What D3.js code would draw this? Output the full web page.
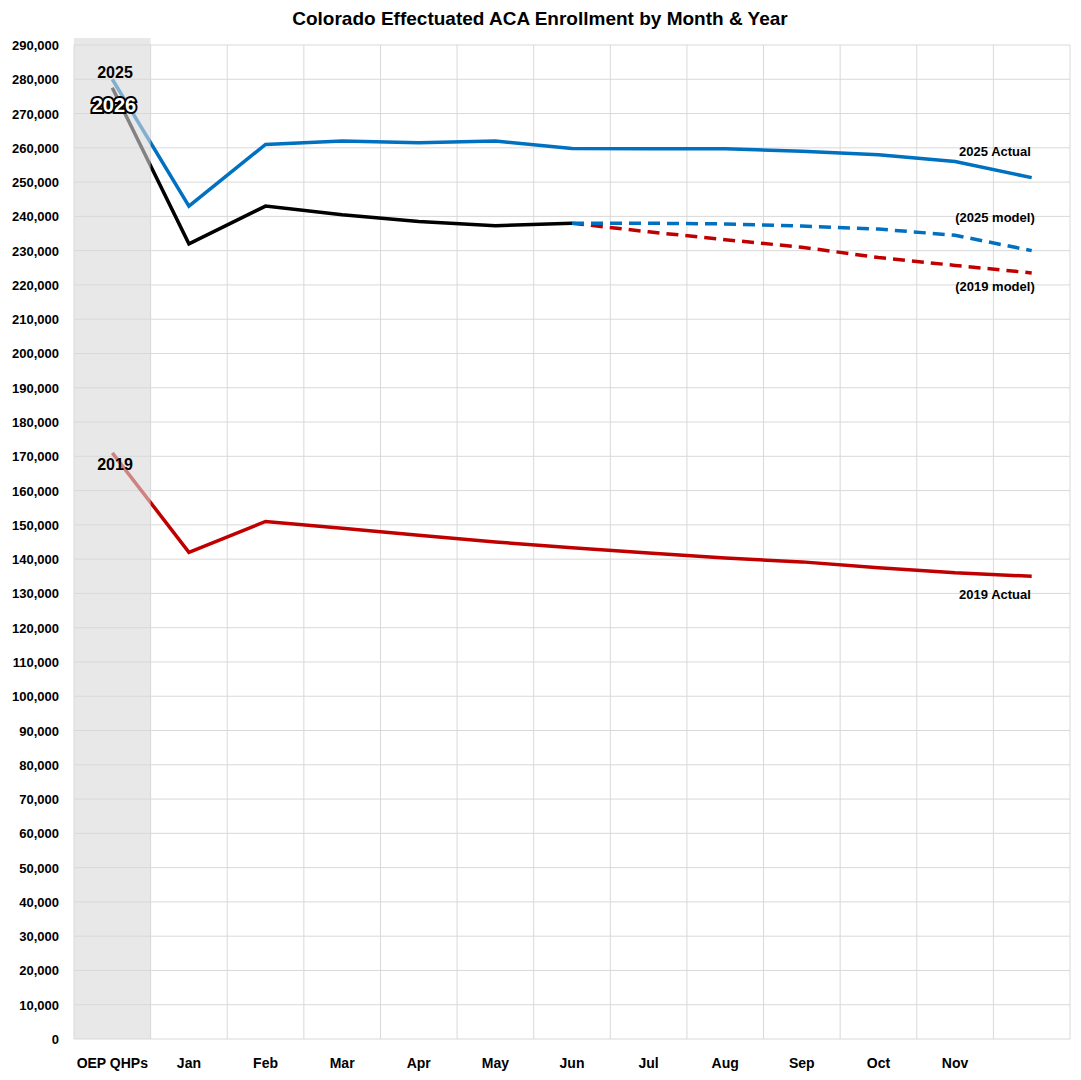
<!DOCTYPE html>
<html><head><meta charset="utf-8">
<script src="https://cdn.jsdelivr.net/npm/d3@7"></script>
<style>body{margin:0;background:#fff}text{font-family:"Liberation Sans",Arial,sans-serif}</style>
</head><body><svg id="c" width="1081" height="1080"></svg>
<script>
var months = ["OEP QHPs","Jan","Feb","Mar","Apr","May","Jun","Jul","Aug","Sep","Oct","Nov","Dec"];
var tickLabels = ["OEP QHPs","Jan","Feb","Mar","Apr","May","Jun","Jul","Aug","Sep","Oct","Nov",""];
var y2025 = [280000,243000,261000,262000,261500,262000,259800,259700,259700,259000,258000,256000,251300];
var y2026 = [277500,232000,243000,240500,238500,237300,238000];
var model2025 = [null,null,null,null,null,null,238000,238000,237800,237200,236300,234500,230000];
var model2019 = [null,null,null,null,null,null,238000,235500,233200,231000,228000,225700,223500];
var y2019 = [171000,142000,151000,149000,147000,145000,143300,141800,140300,139200,137500,136000,135000];

var svg = d3.select("#c");
var x = d3.scaleBand().domain(months).range([74,1070]);
var y = d3.scaleLinear().domain([0,290000]).range([1039,45]);
var cx = function(i){ return x(months[i]) + x.bandwidth()/2; };

svg.append("text").attr("x",540).attr("y",25).attr("text-anchor","middle")
  .style("font-size","19px").style("font-weight","bold").text("Colorado Effectuated ACA Enrollment by Month & Year");

// grid
svg.append("g").selectAll("line").data(y.ticks(29)).enter().append("line")
  .attr("x1",74).attr("x2",1070).attr("y1",d=>y(d)).attr("y2",d=>y(d)).attr("stroke","#d9d9d9");
svg.append("g").selectAll("line").data(months.concat(["end"])).enter().append("line")
  .attr("x1",(d,i)=>74+i*x.bandwidth()).attr("x2",(d,i)=>74+i*x.bandwidth())
  .attr("y1",45).attr("y2",1039).attr("stroke","#d9d9d9");

svg.append("g").selectAll("text").data(y.ticks(29)).enter().append("text")
  .attr("x",59).attr("y",d=>y(d)+5).attr("text-anchor","end")
  .style("font-size","13px").style("font-weight","bold").text(d3.format(","));
svg.append("g").selectAll("text").data(tickLabels).enter().append("text")
  .attr("x",(d,i)=>cx(i)).attr("y",1068).attr("text-anchor","middle")
  .style("font-size","14px").style("font-weight","bold").text(d=>d);

function line(data,color,dash){
  var pts = data.map((v,i)=>[i,v]).filter(d=>d[1]!=null);
  svg.append("path").datum(pts)
    .attr("d",d3.line().x(d=>cx(d[0])).y(d=>y(d[1])))
    .attr("fill","none").attr("stroke",color).attr("stroke-width",3.5)
    .attr("stroke-dasharray",dash||null);
}
line(model2019,"#c00000","12,7");
line(model2025,"#0070c0","12,7");
line(y2019,"#c00000");
line(y2025,"#0070c0");
line(y2026,"#000000");

// OEP band over lines
svg.append("rect").attr("x",74).attr("y",38).attr("width",x.bandwidth()).attr("height",1039-38)
  .attr("fill","#d9d9d9").attr("opacity",0.6);

function lbl(t,xx,yy,size,white){
  var s = svg.append("text").attr("x",xx).attr("y",yy).attr("text-anchor","middle")
    .style("font-size",size+"px").style("font-weight","bold").text(t);
  if(white) s.attr("fill","#fff").attr("stroke","#000").attr("stroke-width",4).attr("paint-order","stroke");
}
lbl("2025",115,78,16);
lbl("2026",114,112,20,true);
lbl("2019",115,470,16);
lbl("2025 Actual",995,156,13);
lbl("(2025 model)",995,222,13);
lbl("(2019 model)",995,291,13);
lbl("2019 Actual",995,599,13);
</script></body></html>
